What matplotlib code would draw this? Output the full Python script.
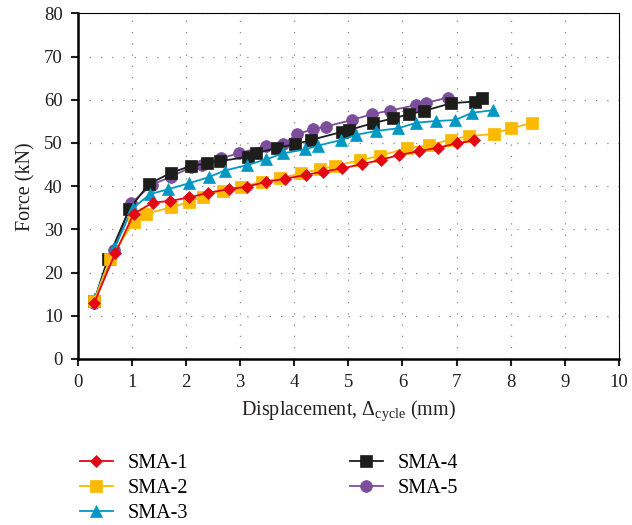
import matplotlib
matplotlib.use("Agg")
import matplotlib.pyplot as plt

plt.rcParams["font.family"] = ["Liberation Serif", "DejaVu Serif"]
plt.rcParams["mathtext.fontset"] = "custom"
plt.rcParams["mathtext.rm"] = "Liberation Serif"
plt.rcParams["mathtext.it"] = "Liberation Serif:italic"

# Data
sma1_x = [0.3, 0.69, 1.03, 1.38, 1.71, 2.06, 2.41, 2.79, 3.13, 3.48, 3.82, 4.21, 4.54, 4.88, 5.25, 5.6, 5.94, 6.3, 6.65, 7.01, 7.33]
sma1_y = [13.0, 24.5, 33.6, 36.2, 36.6, 37.4, 38.5, 39.3, 39.9, 41.0, 41.7, 42.6, 43.4, 44.1, 45.1, 46.1, 47.2, 48.1, 48.9, 49.9, 50.6]

sma2_x = [0.3, 0.59, 1.03, 1.25, 1.72, 2.06, 2.31, 2.68, 3.02, 3.4, 3.73, 4.13, 4.47, 4.76, 5.21, 5.58, 6.08, 6.5, 6.89, 7.24, 7.69, 8.0, 8.39]
sma2_y = [13.5, 23.1, 31.8, 33.6, 35.1, 36.4, 37.6, 39.0, 39.9, 41.0, 41.8, 43.0, 43.9, 44.7, 46.0, 47.0, 48.8, 49.5, 50.8, 51.6, 52.1, 53.4, 54.6]

sma3_x = [0.3, 0.67, 1.01, 1.34, 1.67, 2.06, 2.42, 2.71, 3.13, 3.48, 3.79, 4.19, 4.44, 4.87, 5.15, 5.52, 5.92, 6.26, 6.63, 6.97, 7.29, 7.68]
sma3_y = [13.8, 25.6, 34.9, 38.2, 39.3, 40.7, 42.1, 43.6, 44.9, 46.2, 47.6, 48.5, 49.4, 50.7, 51.9, 52.8, 53.4, 54.7, 55.1, 55.3, 57.0, 57.6]

sma4_x = [0.3, 0.55, 0.95, 1.31, 1.72, 2.09, 2.38, 2.63, 3.14, 3.3, 3.68, 4.02, 4.31, 4.89, 5.01, 5.46, 5.83, 6.13, 6.39, 6.9, 7.34, 7.48]
sma4_y = [13.5, 23.1, 34.7, 40.5, 43.1, 44.7, 45.3, 45.8, 46.8, 47.6, 48.9, 49.7, 50.7, 52.6, 53.0, 54.6, 55.7, 56.7, 57.4, 59.2, 59.6, 60.3]

sma5_x = [0.3, 0.67, 0.98, 1.36, 1.72, 2.09, 2.3, 2.65, 2.97, 3.47, 3.8, 4.05, 4.34, 4.58, 5.06, 5.44, 5.77, 6.26, 6.44, 6.84]
sma5_y = [13.0, 25.2, 36.0, 40.3, 42.2, 44.4, 44.9, 46.5, 47.6, 49.3, 49.8, 52.0, 53.2, 53.8, 55.3, 56.7, 57.5, 58.8, 59.3, 60.5]

labels = ["SMA-1", "SMA-2", "SMA-3", "SMA-4", "SMA-5"]
colors = ["#e30613", "#fbb900", "#0098c3", "#1d1d1b", "#7c4d9b"]
markers = ["D", "s", "^", "s", "o"]
msizes = [6.5, 8, 8.5, 8, 8.5]
series = [(sma1_x, sma1_y), (sma2_x, sma2_y), (sma3_x, sma3_y), (sma4_x, sma4_y), (sma5_x, sma5_y)]

fig = plt.figure(figsize=(6.32, 5.25), dpi=100)
ax = fig.add_axes([0.1234, 0.3162, 0.8556, 0.6583])

handles = [None] * 5
for i in [4, 3, 2, 1, 0]:
    x, y = series[i]
    (h,) = ax.plot(x, y, color=colors[i], marker=markers[i], markersize=msizes[i],
                   markeredgecolor=colors[i], markeredgewidth=0.5, linewidth=1.3,
                   label=labels[i], zorder=3 + (4 - i))
    handles[i] = h

ax.set_xlim(0, 10)
ax.set_ylim(0, 80)
ax.set_xticks(range(0, 11))
ax.set_yticks(range(0, 81, 10))
ax.grid(True, color="#888888", linestyle=(0, (1, 8)), linewidth=0.9)
ax.set_axisbelow(True)

for side in ["left", "bottom"]:
    ax.spines[side].set_linewidth(1.8)
for side in ["top", "right"]:
    ax.spines[side].set_linewidth(0.8)
ax.tick_params(axis="both", which="major", direction="out", length=5, width=1.5,
               labelsize=13.5, colors="#231f20", pad=6)
ax.tick_params(top=False, right=False)

ax.set_xlabel(r"Displacement, $\Delta_{\mathrm{cycle}}$ (mm)", fontsize=14.5, color="#231f20", labelpad=5)
ax.set_ylabel("Force (kN)", fontsize=14.5, color="#231f20", labelpad=6)

fig.legend(handles=handles, labels=labels, loc="upper left", bbox_to_anchor=(0.126, 0.136),
           ncol=2, frameon=False, fontsize=14.5, handlelength=1.65, handletextpad=0.75,
           columnspacing=8.0, labelspacing=0.3, borderpad=0, borderaxespad=0)

fig.savefig("out.png", dpi=100)
